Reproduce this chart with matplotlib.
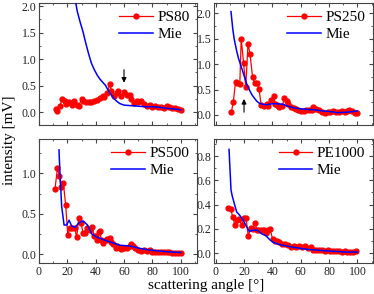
import matplotlib
matplotlib.use('Agg')
import matplotlib.pyplot as plt
from matplotlib.ticker import MultipleLocator
import numpy as np

plt.rcParams['font.family'] = ['Liberation Serif', 'DejaVu Serif']
plt.rcParams['mathtext.fontset'] = 'stix'

# PS80
ps80_x = [12, 13, 15, 16, 18, 19, 21, 23, 25, 27, 28, 30, 31, 33, 35, 37, 39, 41, 43, 45,
          46, 48, 50, 51, 53, 55, 56, 58, 60, 62, 64, 65, 67, 69, 70, 72, 74, 76, 78, 80,
          82, 84, 86, 88, 90, 92, 94, 96, 98, 100]
ps80_y = [0.05, 0.02, 0.12, 0.24, 0.2, 0.15, 0.18, 0.13, 0.2, 0.14, 0.12, 0.24, 0.2, 0.19,
          0.18, 0.19, 0.2, 0.22, 0.26, 0.3, 0.28, 0.35, 0.53, 0.4, 0.3, 0.35, 0.4, 0.3, 0.38,
          0.33, 0.33, 0.25, 0.17, 0.2, 0.18, 0.2, 0.15, 0.12, 0.13, 0.1, 0.12, 0.1, 0.1, 0.08,
          0.12, 0.09, 0.07, 0.08, 0.06, 0.04]
mie80_x = [25, 27, 29, 31, 33, 35, 37, 39, 41, 43, 45, 47, 49, 51, 53, 55, 57, 60, 65, 70,
           75, 80, 85, 90, 95, 100]
mie80_y = [2.2, 1.9, 1.7, 1.52, 1.3, 1.1, 0.92, 0.8, 0.7, 0.62, 0.56, 0.5, 0.4, 0.32, 0.25,
           0.2, 0.16, 0.13, 0.12, 0.11, 0.1, 0.1, 0.09, 0.07, 0.06, 0.04]

# PS250
ps250_x = [11, 12.4, 14, 15.3, 17, 18, 19.7, 21.2, 22.8, 24.2, 26, 27.5, 29.2, 30.6, 32,
           34, 36, 37, 39, 41, 42, 43, 45, 47, 48.5, 50, 51, 53, 55, 57, 58, 60, 62, 64,
           66, 68, 69, 71, 73, 75, 77, 79, 81, 83, 85, 87, 89, 91, 93, 94, 96, 98, 100]
ps250_y = [0.05, 0.25, 0.65, 0.63, 0.6, 1.5, 1.02, 0.55, 1.4, 1.2, 0.75, 0.62, 0.62, 0.52,
           0.2, 0.18, 0.22, 0.17, 0.3, 0.37, 0.22, 0.2, 0.16, 0.18, 0.34, 0.28, 0.22, 0.15,
           0.13, 0.12, 0.1, 0.08, 0.07, 0.09, 0.1, 0.09, 0.16, 0.12, 0.1, 0.06, 0.04, 0.05,
           0.06, 0.08, 0.05, 0.06, 0.07, 0.06, 0.07, 0.1, 0.07, 0.04, 0.03]
mie250_x = [10.8, 12, 13, 14.7, 16, 18, 20.3, 22, 23.8, 25.5, 27.3, 29, 30.8, 33, 35.5, 40,
            44, 47.4, 50, 55, 60, 65, 70, 75, 80, 86, 90, 95, 100]
mie250_y = [2.03, 1.7, 1.5, 1.27, 1.12, 0.95, 0.75, 0.6, 0.49, 0.4, 0.33, 0.27, 0.23, 0.21,
            0.2, 0.22, 0.22, 0.21, 0.18, 0.14, 0.12, 0.11, 0.1, 0.08, 0.07, 0.045, 0.05,
            0.06, 0.08]

# PS500
ps500_x = [11.3, 13, 14.4, 15.5, 17.2, 18.8, 20.3, 21.9, 23.6, 25.2, 26.6, 28, 29.7, 31.1,
           32.7, 34.2, 36, 37.5, 39, 40, 41, 42, 43, 44, 45, 47, 48, 50, 51, 52, 54, 55,
           57, 58, 60, 62, 64, 65, 66, 68, 70, 72, 74, 76, 78, 80, 82, 84, 86, 88, 90, 92,
           94, 96, 98, 100]
ps500_y = [0.81, 1.06, 0.97, 0.83, 0.88, 0.61, 0.24, 0.32, 0.32, 0.32, 0.21, 0.45, 0.38,
           0.26, 0.26, 0.32, 0.3, 0.33, 0.22, 0.22, 0.18, 0.27, 0.28, 0.17, 0.14, 0.18, 0.19,
           0.2, 0.15, 0.12, 0.08, 0.1, 0.07, 0.06, 0.07, 0.08, 0.1, 0.12, 0.1, 0.08, 0.05,
           0.04, 0.05, 0.04, 0.05, 0.03, 0.03, 0.02, 0.03, 0.02, 0.02, 0.02, 0.01, 0.01,
           0.01, 0.01]
mie500_x = [14.1, 14.8, 16, 17.7, 19.5, 21.2, 23, 25.4, 28.3, 31.3, 34.2, 37.2, 40.7, 45.5,
            50.2, 57.2, 64.3, 71.4, 78.4, 90, 100]
mie500_y = [1.29, 1.0, 0.59, 0.36, 0.36, 0.42, 0.35, 0.33, 0.39, 0.41, 0.36, 0.25, 0.21,
            0.18, 0.15, 0.11, 0.1, 0.07, 0.05, 0.03, 0.02]

# PE1000
pe1000_x = [8.9, 10.6, 12, 13.6, 15.3, 16.7, 18.3, 20, 21.4, 23, 24.6, 26, 27.7, 29.3, 30.8,
            32.4, 34, 35.4, 37.1, 38.3, 40.1, 41.8, 43.4, 45, 47, 49, 51, 53, 55, 57, 59,
            61, 63, 65, 67, 69, 71, 73, 75, 77, 79, 81, 83, 85, 87, 89, 91, 93, 95, 97, 99]
pe1000_y = [0.375, 0.365, 0.3, 0.23, 0.27, 0.28, 0.23, 0.29, 0.29, 0.14, 0.21, 0.2, 0.25,
            0.19, 0.19, 0.19, 0.19, 0.17, 0.19, 0.2, 0.12, 0.1, 0.1, 0.09, 0.08, 0.08, 0.07,
            0.05, 0.06, 0.05, 0.06, 0.05, 0.06, 0.04, 0.05, 0.03, 0.03, 0.03, 0.03, 0.02,
            0.03, 0.02, 0.02, 0.02, 0.02, 0.01, 0.02, 0.01, 0.01, 0.01, 0.015]
mie1000_x = [9.4, 10.8, 11.7, 13.1, 14.8, 17.1, 19.5, 21.8, 23.7, 26.5, 29.3, 32.4, 35.4,
             38.3, 40.6, 45.3, 54.7, 64, 78, 92, 100]
mie1000_y = [0.855, 0.52, 0.47, 0.41, 0.34, 0.31, 0.27, 0.22, 0.18, 0.19, 0.19, 0.16, 0.145,
             0.11, 0.09, 0.07, 0.05, 0.033, 0.02, 0.01, 0.01]

W, H = 374, 294
fig = plt.figure(figsize=(W / 100, H / 100), dpi=100)


def make_ax(l, r, t, b):
    return fig.add_axes([l / W, 1 - b / H, (r - l) / W, (b - t) / H])


panels = [
    (make_ax(39, 197, 3, 125), ps80_x, ps80_y, mie80_x, mie80_y, 'PS80',
     (0, 111.5), (-0.245, 2.057), 0.5, 0.25),
    (make_ax(214, 373, 3, 125), ps250_x, ps250_y, mie250_x, mie250_y, 'PS250',
     (-1.2, 111), (-0.197, 2.2), 0.5, 0.25),
    (make_ax(39, 197, 139, 263), ps500_x, ps500_y, mie500_x, mie500_y, 'PS500',
     (0, 111.5), (-0.11, 1.425), 0.5, 0.25),
    (make_ax(214, 373, 139, 263), pe1000_x, pe1000_y, mie1000_x, mie1000_y, 'PE1000',
     (-1.2, 111), (-0.08, 0.94), 0.2, 0.1),
]

for i, (ax, x, y, mx, my, name, xl, yl, ymaj, ymin) in enumerate(panels):
    ax.plot(x, y, color='red', marker='o', markersize=3.5, lw=0.9, label=name, zorder=2)
    ax.plot(mx, my, color='blue', lw=1.1, label='Mie', zorder=3)
    ax.set_xlim(*xl)
    ax.set_ylim(*yl)
    ax.xaxis.set_major_locator(MultipleLocator(20))
    ax.xaxis.set_minor_locator(MultipleLocator(10))
    ax.yaxis.set_major_locator(MultipleLocator(ymaj))
    ax.yaxis.set_minor_locator(MultipleLocator(ymin))
    ax.tick_params(which='both', direction='in', top=True, right=True,
                   labelsize=8.5, pad=2, color='#444444', labelcolor='#222222')
    ax.tick_params(which='major', length=3)
    ax.tick_params(which='minor', length=1.5)
    for s in ax.spines.values():
        s.set_color('#444444')
        s.set_linewidth(0.8)
    if i < 2:
        ax.tick_params(labelbottom=False)
    ax.legend(loc='upper right', frameon=False, fontsize=11, handlelength=2.2,
              borderaxespad=0.1, labelspacing=0.2, handletextpad=0.3)

panels[0][0].annotate('', xy=(60, 0.5), xytext=(60, 0.85),
                      arrowprops=dict(arrowstyle='-|>', color='black', lw=0.8,
                                      mutation_scale=7))
panels[1][0].annotate('', xy=(20, 0.37), xytext=(20, 0.0),
                      arrowprops=dict(arrowstyle='-|>', color='black', lw=0.8,
                                      mutation_scale=7))

fig.text(10 / W, 1 - 140 / H, 'intensity [mV]', rotation=90, ha='center', va='center',
         fontsize=11)
fig.text(206 / W, 1 - 285 / H, 'scattering angle [°]', ha='center', va='center',
         fontsize=11)

fig.savefig('out.png', dpi=100)
